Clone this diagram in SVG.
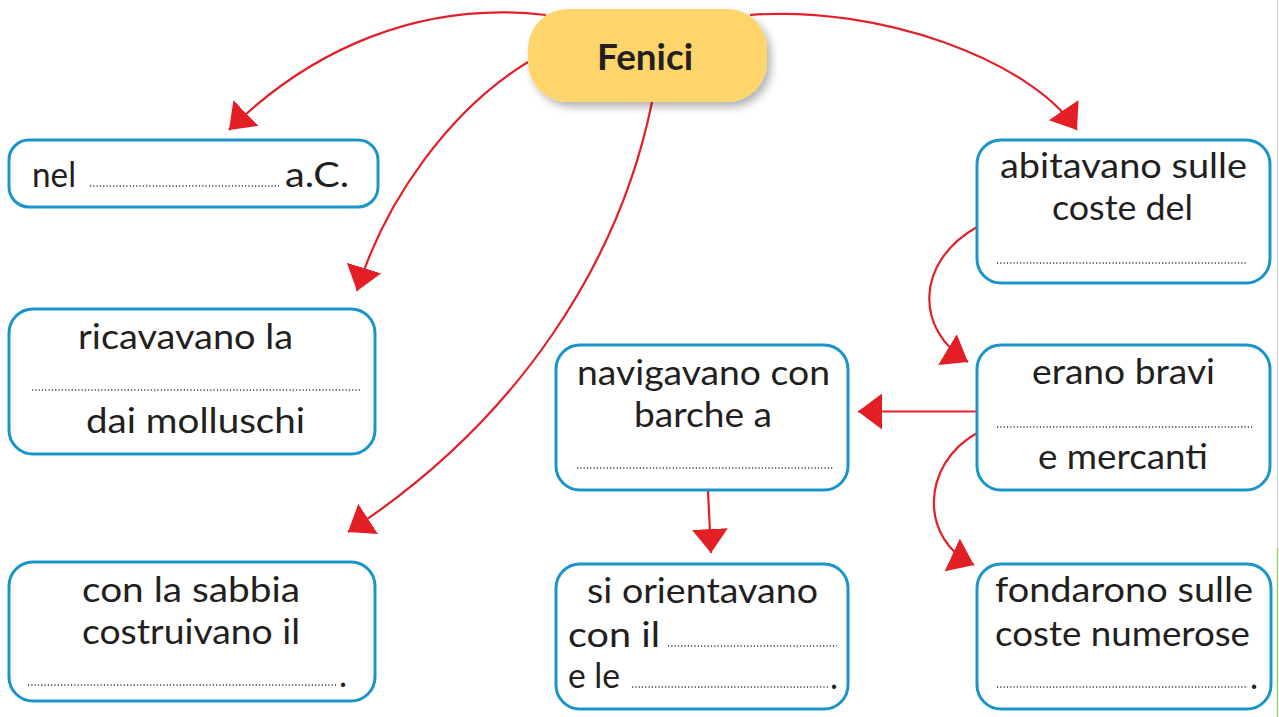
<svg xmlns="http://www.w3.org/2000/svg" width="1279" height="717" viewBox="0 0 1279 717">
<style>
.box{fill:#fff;stroke:#1a95cb;stroke-width:3}
.t{font-family:Lato,"Noto Sans",sans-serif;font-size:34px;fill:#231f20}
.dots{stroke:#3a3a3a;stroke-width:1.3;stroke-dasharray:1.2 2.1;fill:none}
.con{fill:none;stroke:#e3202a;stroke-width:2.2}
</style>
<defs>
<marker id="ah" viewBox="0 0 24 36" refX="24" refY="18" markerWidth="24" markerHeight="36" markerUnits="userSpaceOnUse" orient="auto">
<path d="M0,0 L24,18 L0,36 z" fill="#e31e25"/>
</marker>
<filter id="sh" x="-20%" y="-30%" width="140%" height="170%">
<feDropShadow dx="4" dy="5" stdDeviation="4" flood-color="#000" flood-opacity="0.3"/>
</filter>
</defs>
<rect x="0" y="0" width="1279" height="717" fill="#fff"/>
<line x1="1277.5" y1="0" x2="1277.5" y2="548" stroke="#d0d0d0" stroke-width="1"/>
<line x1="1277.5" y1="548" x2="1277.5" y2="717" stroke="#9ccc7a" stroke-width="1.5"/>

<g id="connectors">
<path class="con" marker-end="url(#ah)" d="M546 15 C420 0 310 50 229 130"/>
<path class="con" marker-end="url(#ah)" d="M528 62 C450 110 385 200 357 291"/>
<path class="con" marker-end="url(#ah)" d="M652 102 C620 260 520 420 348 532"/>
<path class="con" marker-end="url(#ah)" d="M750 15 C880 5 1030 60 1077 130"/>
<path class="con" marker-end="url(#ah)" d="M977 227 C915 262 915 330 968 362"/>
<path class="con" marker-end="url(#ah)" d="M977 411.5 L858 411.5"/>
<path class="con" marker-end="url(#ah)" d="M977 433 C920 465 920 540 974 565"/>
<path class="con" marker-end="url(#ah)" d="M708 491 L711 553"/>
</g>

<g id="fenici">
<rect x="528" y="9" width="239" height="93" rx="40" fill="#fdd56a" filter="url(#sh)"/>
<text x="597" y="69.5" class="t" style="font-weight:700;font-size:36px" textLength="96" lengthAdjust="spacingAndGlyphs">Fenici</text>
</g>

<g id="node-nel">
<rect class="box" x="9" y="140" width="369" height="67" rx="20"/>
<text class="t" x="32" y="187" textLength="44" lengthAdjust="spacingAndGlyphs">nel</text>
<line class="dots" x1="90" y1="186" x2="279" y2="186"/>
<text class="t" x="285" y="187" textLength="64" lengthAdjust="spacingAndGlyphs">a.C.</text>
</g>

<g id="node-ricavavano">
<rect class="box" x="9" y="309" width="366" height="145" rx="24"/>
<text class="t" x="78" y="349" textLength="215" lengthAdjust="spacingAndGlyphs">ricavavano la</text>
<line class="dots" x1="32" y1="390" x2="360" y2="390"/>
<text class="t" x="86" y="433" textLength="219" lengthAdjust="spacingAndGlyphs">dai molluschi</text>
</g>

<g id="node-sabbia">
<rect class="box" x="9" y="562" width="366" height="139" rx="24"/>
<text class="t" x="82" y="602" textLength="218" lengthAdjust="spacingAndGlyphs">con la sabbia</text>
<text class="t" x="82" y="644" textLength="218" lengthAdjust="spacingAndGlyphs">costruivano il</text>
<line class="dots" x1="28" y1="685" x2="336" y2="685"/>
<text class="t" x="339" y="687">.</text>
</g>

<g id="node-navigavano">
<rect class="box" x="556" y="345" width="292" height="145" rx="24"/>
<text class="t" x="577" y="385" textLength="253" lengthAdjust="spacingAndGlyphs">navigavano con</text>
<text class="t" x="634" y="427" textLength="138" lengthAdjust="spacingAndGlyphs">barche a</text>
<line class="dots" x1="577" y1="468" x2="833" y2="468"/>
</g>

<g id="node-orientavano">
<rect class="box" x="556" y="564" width="292" height="145" rx="24"/>
<text class="t" x="587" y="603" textLength="231" lengthAdjust="spacingAndGlyphs">si orientavano</text>
<text class="t" x="568" y="647" textLength="92" lengthAdjust="spacingAndGlyphs">con il</text>
<line class="dots" x1="668" y1="646" x2="837" y2="646"/>
<text class="t" x="568" y="688" textLength="52" lengthAdjust="spacingAndGlyphs">e le</text>
<line class="dots" x1="632" y1="687" x2="828" y2="687"/>
<text class="t" x="830" y="689">.</text>
</g>

<g id="node-abitavano">
<rect class="box" x="977" y="140" width="293" height="143" rx="24"/>
<text class="t" x="1000" y="178" textLength="247" lengthAdjust="spacingAndGlyphs">abitavano sulle</text>
<text class="t" x="1052" y="220" textLength="141" lengthAdjust="spacingAndGlyphs">coste del</text>
<line class="dots" x1="997" y1="263" x2="1247" y2="263"/>
</g>

<g id="node-bravi">
<rect class="box" x="977" y="345" width="293" height="145" rx="24"/>
<text class="t" x="1032" y="384" textLength="183" lengthAdjust="spacingAndGlyphs">erano bravi</text>
<line class="dots" x1="997" y1="427" x2="1252" y2="427"/>
<text class="t" x="1038" y="469" textLength="170" lengthAdjust="spacingAndGlyphs">e mercanti</text>
</g>

<g id="node-fondarono">
<rect class="box" x="977" y="564" width="294" height="145" rx="24"/>
<text class="t" x="995" y="602" textLength="258" lengthAdjust="spacingAndGlyphs">fondarono sulle</text>
<text class="t" x="995" y="646" textLength="255" lengthAdjust="spacingAndGlyphs">coste numerose</text>
<line class="dots" x1="997" y1="687" x2="1248" y2="687"/>
<text class="t" x="1250" y="689">.</text>
</g>
</svg>
